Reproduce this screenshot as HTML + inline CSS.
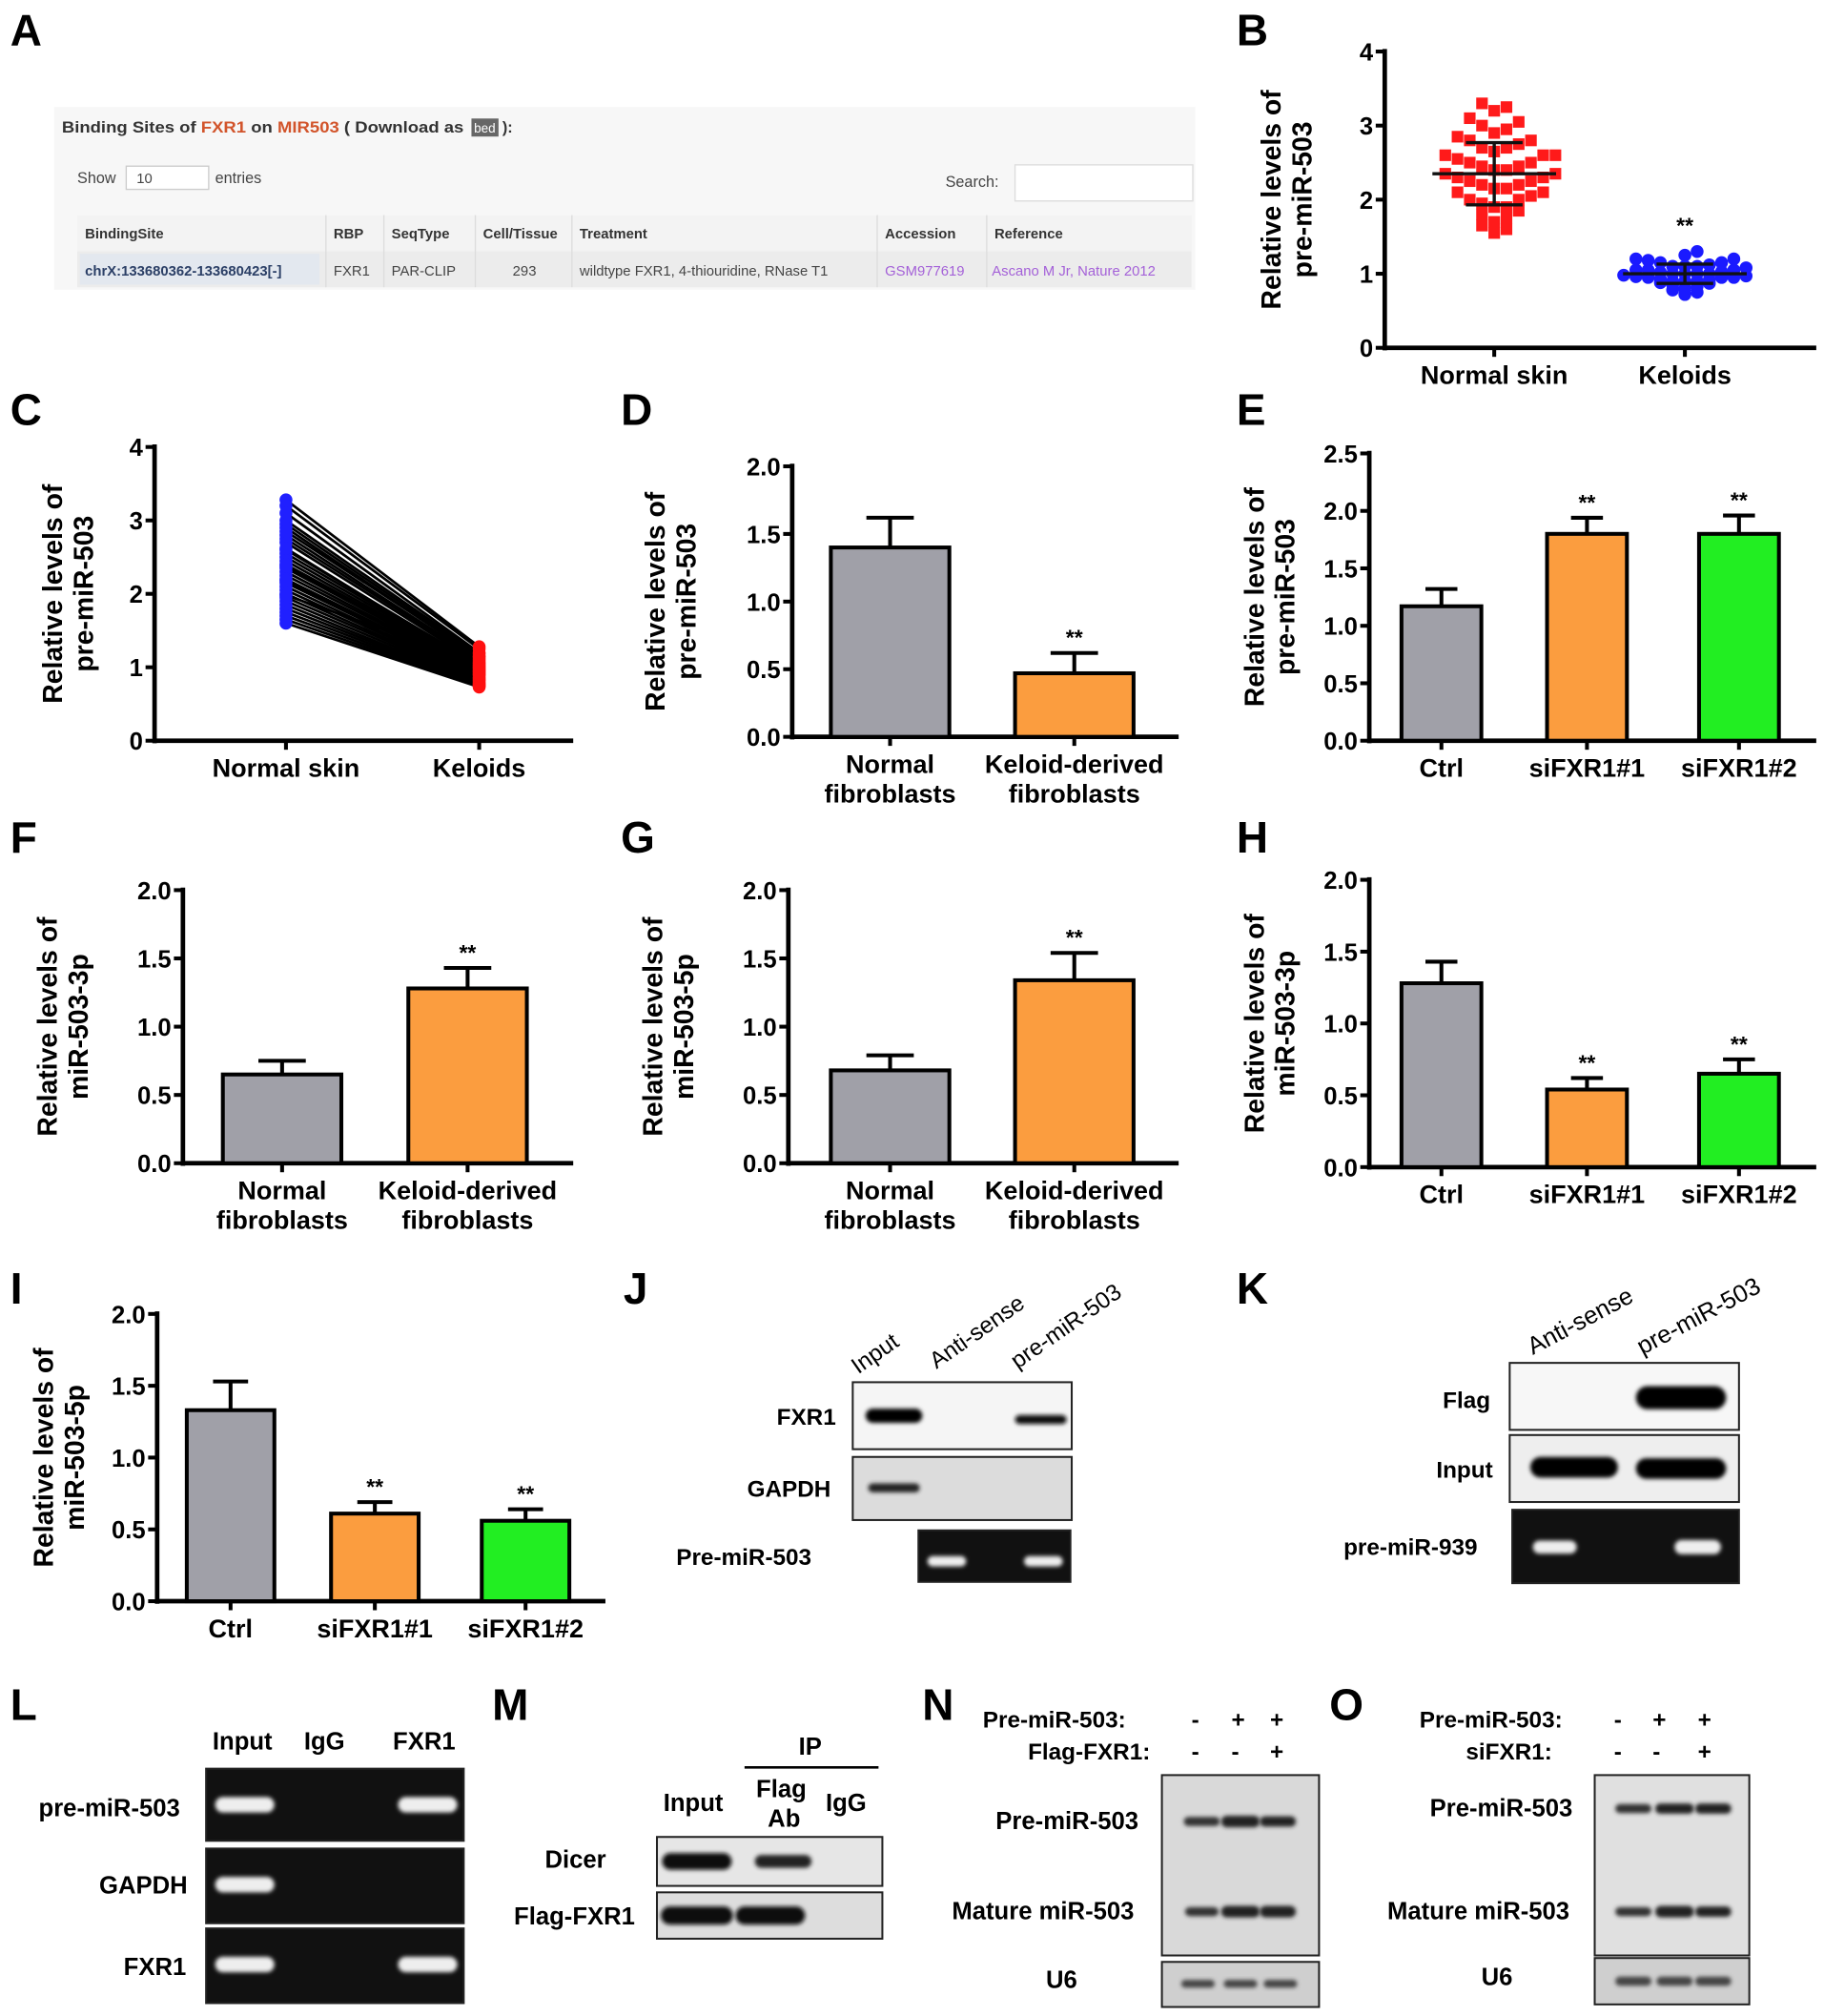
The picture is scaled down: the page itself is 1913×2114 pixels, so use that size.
<!DOCTYPE html>
<html><head><meta charset="utf-8"><style>
html,body{margin:0;padding:0;background:#fff;}
svg{display:block;font-family:"Liberation Sans",Arial,sans-serif;}
</style></head><body>
<svg id="fig" width="1913" height="2114" viewBox="0 0 1416 1565" preserveAspectRatio="none" xmlns="http://www.w3.org/2000/svg">
<defs>
<filter id="blur1" x="-20%" y="-50%" width="140%" height="200%"><feGaussianBlur stdDeviation="1.6"/></filter>
</defs>
<g font-weight="bold" font-size="34" fill="#000">
<text x="8" y="35">A</text><text x="960" y="35">B</text>
<text x="8" y="330">C</text><text x="482" y="330">D</text><text x="960" y="330">E</text>
<text x="8" y="662">F</text><text x="482" y="662">G</text><text x="960" y="662">H</text>
<text x="8" y="1012">I</text><text x="484" y="1012">J</text><text x="960" y="1012">K</text>
<text x="8" y="1335">L</text><text x="382" y="1335">M</text><text x="716" y="1335">N</text><text x="1032" y="1335">O</text>
</g>

<!-- Panel A table -->
<g font-size="12">
<rect x="42" y="83" width="886" height="142" fill="#f7f7f7"/>
<text x="48" y="103" font-weight="bold" fill="#333" textLength="312" lengthAdjust="spacingAndGlyphs">Binding Sites of <tspan fill="#d2542b">FXR1</tspan> on <tspan fill="#d2542b">MIR503</tspan> ( Download as</text>
<rect x="366" y="92" width="21" height="14" fill="#666"/>
<text x="368" y="103" fill="#fff" font-size="10">bed</text>
<text x="390" y="103" font-weight="bold" fill="#333">):</text>
<text x="60" y="142" fill="#444">Show</text>
<rect x="98" y="129" width="64" height="18" fill="#fff" stroke="#ccc"/>
<text x="106" y="142" fill="#444" font-size="11">10</text>
<text x="167" y="142" fill="#444">entries</text>
<text x="734" y="145" fill="#444">Search:</text>
<rect x="788" y="128" width="138" height="28" fill="#fff" stroke="#ddd"/>
<rect x="60" y="167" width="865" height="28" fill="#f3f3f3"/>
<rect x="60" y="195" width="865" height="28" fill="#ececec"/>
<rect x="62" y="197" width="186" height="24" fill="#e3e8ef"/>
<g font-weight="bold" fill="#333" font-size="11">
<text x="66" y="185">BindingSite</text><text x="259" y="185">RBP</text><text x="304" y="185">SeqType</text><text x="375" y="185">Cell/Tissue</text><text x="450" y="185">Treatment</text><text x="687" y="185">Accession</text><text x="772" y="185">Reference</text>
<text x="66" y="214" fill="#2b3f66">chrX:133680362-133680423[-]</text>
</g>
<g fill="#444" font-size="11">
<text x="259" y="214">FXR1</text><text x="304" y="214">PAR-CLIP</text><text x="398" y="214">293</text><text x="450" y="214">wildtype FXR1, 4-thiouridine, RNase T1</text>
<text x="687" y="214" fill="#a461d8">GSM977619</text><text x="770" y="214" fill="#a461d8">Ascano M Jr, Nature 2012</text>
</g>
<g stroke="#ddd"><line x1="253" y1="167" x2="253" y2="223"/><line x1="298" y1="167" x2="298" y2="223"/><line x1="369" y1="167" x2="369" y2="223"/><line x1="444" y1="167" x2="444" y2="223"/><line x1="681" y1="167" x2="681" y2="223"/><line x1="766" y1="167" x2="766" y2="223"/></g>
</g>

<g id="charts"></g>
<g id="blots"></g>
</svg>
<script>
// ===== Chart data =====
const bTicks=["0","1","2","3","4"];
const bCats=["Normal skin","Keloids"];
const bNormal=[3.3,3.25,3.2,3.1,3.05,3.0,2.95,2.9,2.85,2.8,2.8,2.75,2.7,2.65,2.6,2.6,2.55,2.5,2.5,2.45,2.4,2.4,2.35,2.35,2.3,2.3,2.25,2.2,2.2,2.15,2.1,2.1,2.05,2.0,2.0,1.95,1.9,1.9,1.85,1.8,1.75,1.7,1.65,1.6,1.55,2.45,2.25,2.6,2.15,2.7];
const bKeloid=[1.3,1.25,1.2,1.2,1.15,1.15,1.12,1.1,1.1,1.08,1.05,1.05,1.03,1.02,1.0,1.0,1.0,0.98,0.97,0.96,0.95,0.95,0.93,0.92,0.9,0.9,0.88,0.87,0.85,0.83,0.8,0.78,0.75,0.72,1.1,1.0,0.95,1.05,0.9,1.18];
const bMean=[2.35,1.0];
const bSD=[0.42,0.13];

const cTicks=["0","1","2","3","4"];
const cCats=["Normal skin","Keloids"];
const cNormal=[3.28,3.2,3.1,3.0,2.95,2.9,2.8,2.75,2.7,2.6,2.55,2.5,2.45,2.4,2.35,2.3,2.25,2.2,2.15,2.1,2.05,2.0,1.95,1.9,1.85,1.8,1.75,1.7,1.65,1.6,2.62,2.38,2.18,1.98,2.85];
const cKeloid=[1.28,1.25,1.2,1.18,1.15,1.12,1.1,1.08,1.05,1.03,1.02,1.0,0.98,0.97,0.95,0.93,0.92,0.9,0.88,0.86,0.85,0.83,0.82,0.8,0.78,0.77,0.76,0.75,0.74,0.73,1.0,0.95,0.9,1.06,1.14];

const dTicks=["0.0","0.5","1.0","1.5","2.0"];
const dCats=[["Normal","fibroblasts"],["Keloid-derived","fibroblasts"]];
const dVals=[1.4,0.47];
const dErr=[0.22,0.15];
const dSig=["","**"];

const eTicks=["0.0","0.5","1.0","1.5","2.0","2.5"];
const eCats=[["Ctrl"],["siFXR1#1"],["siFXR1#2"]];
const eVals=[1.17,1.8,1.8];
const eErr=[0.15,0.14,0.16];
const eSig=["","**","**"];

const fTicks=["0.0","0.5","1.0","1.5","2.0"];
const fCats=[["Normal","fibroblasts"],["Keloid-derived","fibroblasts"]];
const fVals=[0.65,1.28];
const fErr=[0.1,0.15];
const fSig=["","**"];

const gTicks=["0.0","0.5","1.0","1.5","2.0"];
const gCats=[["Normal","fibroblasts"],["Keloid-derived","fibroblasts"]];
const gVals=[0.68,1.34];
const gErr=[0.11,0.2];
const gSig=["","**"];

const hTicks=["0.0","0.5","1.0","1.5","2.0"];
const hCats=[["Ctrl"],["siFXR1#1"],["siFXR1#2"]];
const hVals=[1.28,0.54,0.65];
const hErr=[0.15,0.08,0.1];
const hSig=["","**","**"];

const iTicks=["0.0","0.5","1.0","1.5","2.0"];
const iCats=[["Ctrl"],["siFXR1#1"],["siFXR1#2"]];
const iVals=[1.33,0.61,0.56];
const iErr=[0.2,0.08,0.08];
const iSig=["","**","**"];

const NS="http://www.w3.org/2000/svg";
function el(tag,attrs,parent){const e=document.createElementNS(NS,tag);for(const k in attrs)e.setAttribute(k,attrs[k]);if(parent)parent.appendChild(e);return e;}
const charts=document.getElementById('charts');

function axes(g,cfg,ticks){
  const max=parseFloat(ticks[ticks.length-1]);
  const y=v=>cfg.yBot-(v/max)*(cfg.yBot-cfg.yTop);
  const ax=el('g',{},g);
  
  
  el('line',{x1:cfg.x0,y1:cfg.yTop-2,x2:cfg.x0,y2:cfg.yBot+2,stroke:'#000','stroke-width':3.5},ax);
  ticks.forEach(t=>{const yy=y(parseFloat(t));
    el('line',{x1:cfg.x0-7,y1:yy,x2:cfg.x0,y2:yy,stroke:'#000','stroke-width':3},ax);
    const tx=el('text',{x:cfg.x0-9,y:yy+7,'text-anchor':'end','font-size':19,'font-weight':'bold'},ax);tx.textContent=t;
  });
  const xa=el('line',{x1:cfg.x0,y1:cfg.yBot,x2:cfg.x1,y2:cfg.yBot,stroke:'#000','stroke-width':3.5},g);
  
  
  const tt=el('text',{transform:`translate(${cfg.tx},${(cfg.yTop+cfg.yBot)/2}) rotate(-90)`,'text-anchor':'middle','font-size':21,'font-weight':'bold'},g);
  
  
  const t1=el('tspan',{x:0,dy:-4},tt);t1.textContent='Relative levels of';
  const t2=el('tspan',{x:0,dy:24},tt);t2.textContent=cfg.ylab;
  return y;
}
function catLabels(g,cfg,cats){
  cats.forEach((c,i)=>{const cx=cfg.centers[i];
    el('line',{x1:cx,y1:cfg.yBot,x2:cx,y2:cfg.yBot+7,stroke:'#000','stroke-width':3},g);
    c.forEach((line,j)=>{const t=el('text',{x:cx,y:cfg.yBot+28+j*23,'text-anchor':'middle','font-size':20,'font-weight':'bold'},g);t.textContent=line;
      
      });
  });
}
function barChart(name,cfg,ticks,cats,vals,errs,sig){
  const g=el('g',{},charts);
  
  
  const y=axes(g,cfg,ticks);
  vals.forEach((v,i)=>{const cx=cfg.centers[i],w=cfg.barW;
    const r=el('rect',{x:cx-w/2,y:y(v),width:w,height:cfg.yBot-y(v),fill:cfg.colors[i],stroke:'#000','stroke-width':3},g);
    
    
    const ye=y(v+errs[i]);
    el('line',{x1:cx,y1:y(v),x2:cx,y2:ye,stroke:'#000','stroke-width':3},g);
    el('line',{x1:cx-w*0.2,y1:ye,x2:cx+w*0.2,y2:ye,stroke:'#000','stroke-width':3},g);
    if(sig[i]){const s=el('text',{x:cx,y:ye-6,'text-anchor':'middle','font-size':17,'font-weight':'bold'},g);s.textContent=sig[i];
      
      }
  });
  catLabels(g,cfg,cats);
}
const GRAY='#a0a0a8',OR='#fb9d3f',GR='#22ee22';
barChart('chart-d',{x0:615,x1:915,yTop:362,yBot:572,tx:520,ylab:'pre-miR-503',centers:[691,834],barW:92,colors:[GRAY,OR]},dTicks,dCats,dVals,dErr,dSig);
barChart('chart-e',{x0:1063,x1:1410,yTop:352,yBot:575,tx:985,ylab:'pre-miR-503',centers:[1119,1232,1350],barW:62,colors:[GRAY,OR,GR]},eTicks,eCats,eVals,eErr,eSig);
barChart('chart-f',{x0:142,x1:445,yTop:691,yBot:903,tx:48,ylab:'miR-503-3p',centers:[219,363],barW:92,colors:[GRAY,OR]},fTicks,fCats,fVals,fErr,fSig);
barChart('chart-g',{x0:612,x1:915,yTop:691,yBot:903,tx:518,ylab:'miR-503-5p',centers:[691,834],barW:92,colors:[GRAY,OR]},gTicks,gCats,gVals,gErr,gSig);
barChart('chart-h',{x0:1063,x1:1410,yTop:683,yBot:906,tx:985,ylab:'miR-503-3p',centers:[1119,1232,1350],barW:62,colors:[GRAY,OR,GR]},hTicks,hCats,hVals,hErr,hSig);
barChart('chart-i',{x0:122,x1:470,yTop:1020,yBot:1243,tx:45,ylab:'miR-503-5p',centers:[179,291,408],barW:68,colors:[GRAY,OR,GR]},iTicks,iCats,iVals,iErr,iSig);

// Panel B scatter
(function(){
  const cfg={x0:1075,x1:1410,yTop:40,yBot:270,tx:998,ylab:'pre-miR-503',centers:[1160,1308]};
  const g=el('g',{},charts);
  
  
  const y=axes(g,cfg,bTicks);
  [[bNormal,'#ff1a1a','rect',14],[bKeloid,'#1a1aff','circle',6]].forEach((s,si)=>{
    const cx=cfg.centers[si];
    const sorted=s[0].slice().map((v,i)=>({v,i})).sort((a,b)=>a.v-b.v);
    let bin=-99,k=0;
    sorted.forEach(o=>{const yy=y(o.v);const b=Math.round(yy/s[3]);if(b!==bin){bin=b;k=0;}else k++;
      const off=(k%2?1:-1)*Math.ceil(k/2)*9.5;
      let m;
      if(s[2]==='rect')m=el('rect',{x:cx+off-4.5,y:yy-4.5,width:9,height:9,fill:s[1]},g);
      else m=el('circle',{cx:cx+off,cy:yy,r:5,fill:s[1]},g);
      
      
    });
    const ym=y(bMean[si]),y1=y(bMean[si]+bSD[si]),y2=y(bMean[si]-bSD[si]);
    el('line',{x1:cx-48,y1:ym,x2:cx+48,y2:ym,stroke:'#111','stroke-width':2.5},g);
    el('line',{x1:cx,y1:y1,x2:cx,y2:y2,stroke:'#111','stroke-width':2.5},g);
    el('line',{x1:cx-22,y1:y1,x2:cx+22,y2:y1,stroke:'#111','stroke-width':2.5},g);
    el('line',{x1:cx-22,y1:y2,x2:cx+22,y2:y2,stroke:'#111','stroke-width':2.5},g);
  });
  const s=el('text',{x:1308,y:y(1.55),'text-anchor':'middle','font-size':17,'font-weight':'bold'},g);s.textContent='**';
  catLabels(g,cfg,bCats.map(c=>[c]));
})();

// Panel C paired lines
(function(){
  const cfg={x0:120,x1:445,yTop:347,yBot:575,tx:52,ylab:'pre-miR-503',centers:[222,372]};
  const g=el('g',{},charts);
  
  
  const y=axes(g,cfg,cTicks);
  cNormal.forEach((v,i)=>{const l=el('line',{x1:cfg.centers[0],y1:y(v),x2:cfg.centers[1],y2:y(cKeloid[i]),stroke:'#000','stroke-width':2},g);
    
    });
  cNormal.forEach(v=>{const c=el('circle',{cx:cfg.centers[0],cy:y(v),r:5,fill:'#2020ff'},g);
    
    });
  cKeloid.forEach(v=>{const c=el('circle',{cx:cfg.centers[1],cy:y(v),r:5,fill:'#ff1010'},g);
    
    });
  catLabels(g,cfg,cCats.map(c=>[c]));
})();

// ===== Blots =====
const blots=document.getElementById('blots');
function txt(x,y,s,opt,parent){const t=el('text',Object.assign({x:x,y:y,'font-size':19,'font-weight':'bold'},opt||{}),parent||blots);t.textContent=s;return t;}
function box(x,y,w,h,fill,name){const r=el('rect',{x:x,y:y,width:w,height:h,fill:fill,stroke:'#222','stroke-width':1.5},blots);
  
  return r;}
function band(cx,cy,w,h,fill,op){el('rect',{x:cx-w/2,y:cy-h/2,width:w,height:h,rx:h/2,fill:fill,opacity:op==null?1:op,filter:'url(#blur1)'},blots);}
// J
txt(665,1063,'Input',{transform:'rotate(-35 672 1063)','font-size':18,'font-weight':'normal'});
txt(727,1063,'Anti-sense',{transform:'rotate(-35 727 1063)','font-size':18,'font-weight':'normal'});
txt(790,1063,'pre-miR-503',{transform:'rotate(-35 790 1063)','font-size':18,'font-weight':'normal'});
box(662,1073,170,52,'#f5f5f5','j-fxr1-blot');band(694,1099,44,11,'#000');band(808,1102,40,7,'#111');txt(603,1106,'FXR1',{'font-size':18});
box(662,1131,170,49,'#dcdcdc','j-gapdh-blot');band(694,1155,40,7,'#222');txt(580,1162,'GAPDH',{'font-size':18});
box(713,1188,118,40,'#111','j-premir-gel');band(735,1212,30,8,'#eee');band(810,1212,30,8,'#eee');txt(525,1215,'Pre-miR-503',{'font-size':18});
// K
txt(1190,1052,'Anti-sense',{transform:'rotate(-28 1190 1052)','font-size':19,'font-weight':'normal'});
txt(1275,1052,'pre-miR-503',{transform:'rotate(-28 1275 1052)','font-size':19,'font-weight':'normal'});
box(1172,1058,178,52,'#f7f7f7','k-flag-blot');band(1305,1085,70,18,'#000');txt(1120,1093,'Flag',{'font-size':18});
box(1172,1114,178,52,'#eee','k-input-blot');band(1222,1139,68,16,'#000');band(1305,1140,70,16,'#000');txt(1115,1147,'Input',{'font-size':18});
box(1174,1172,176,57,'#111','k-gel');band(1207,1201,34,10,'#eee');band(1318,1201,36,11,'#eee');txt(1043,1207,'pre-miR-939',{'font-size':18});
// L
txt(165,1358,'Input');txt(236,1358,'IgG');txt(305,1358,'FXR1');
box(160,1373,200,56,'#111','l-premir-gel');band(190,1401,46,12,'#eee');band(332,1401,46,12,'#eee');txt(30,1410,'pre-miR-503');
box(160,1435,200,58,'#111','l-gapdh-gel');band(190,1463,46,12,'#eee');txt(77,1470,'GAPDH');
box(160,1497,200,58,'#111','l-fxr1-gel');band(190,1525,46,12,'#eee');band(332,1525,46,12,'#eee');txt(96,1533,'FXR1');
// M
txt(620,1362,'IP');el('line',{x1:578,y1:1372,x2:682,y2:1372,stroke:'#000','stroke-width':2},blots);
txt(515,1406,'Input');txt(587,1395,'Flag');txt(596,1418,'Ab');txt(641,1406,'IgG');
box(510,1426,175,38,'#e6e6e6','m-dicer-blot');band(541,1445,54,13,'#111');band(608,1445,44,10,'#222');txt(423,1450,'Dicer');
box(510,1469,175,36,'#ddd','m-flag-blot');band(541,1487,56,14,'#111');band(598,1487,54,14,'#111');txt(399,1494,'Flag-FXR1');
// N
txt(763,1341,'Pre-miR-503:',{'font-size':18});txt(925,1341,'-',{'font-size':18});txt(956,1341,'+',{'font-size':18});txt(986,1341,'+',{'font-size':18});
txt(798,1366,'Flag-FXR1:',{'font-size':18});txt(925,1366,'-',{'font-size':18});txt(956,1366,'-',{'font-size':18});txt(986,1366,'+',{'font-size':18});
box(902,1378,122,140,'#d9d9d9','n-blot');band(933,1414,28,7,'#333');band(963,1414,30,9,'#222');band(992,1414,28,8,'#222');
band(933,1484,26,7,'#333');band(963,1484,30,9,'#222');band(992,1484,28,9,'#222');
txt(773,1420,'Pre-miR-503');txt(739,1490,'Mature miR-503');
box(902,1523,122,35,'#cfcfcf','n-u6-blot');band(930,1540,26,6,'#444');band(963,1540,26,6,'#444');band(994,1540,26,6,'#444');txt(812,1543,'U6');
// O
txt(1102,1341,'Pre-miR-503:',{'font-size':18});txt(1253,1341,'-',{'font-size':18});txt(1283,1341,'+',{'font-size':18});txt(1318,1341,'+',{'font-size':18});
txt(1138,1366,'siFXR1:',{'font-size':18});txt(1253,1366,'-',{'font-size':18});txt(1283,1366,'-',{'font-size':18});txt(1318,1366,'+',{'font-size':18});
box(1238,1378,120,140,'#e0e0e0','o-blot');band(1268,1404,28,7,'#333');band(1300,1404,30,8,'#222');band(1330,1404,28,8,'#222');
band(1268,1484,28,7,'#333');band(1300,1484,30,9,'#222');band(1330,1484,28,8,'#222');
txt(1110,1410,'Pre-miR-503');txt(1077,1490,'Mature miR-503');
box(1238,1520,120,36,'#cfcfcf','o-u6-blot');band(1268,1538,28,7,'#444');band(1300,1538,28,7,'#444');band(1330,1538,28,7,'#444');txt(1150,1541,'U6');
</script>
</body></html>
